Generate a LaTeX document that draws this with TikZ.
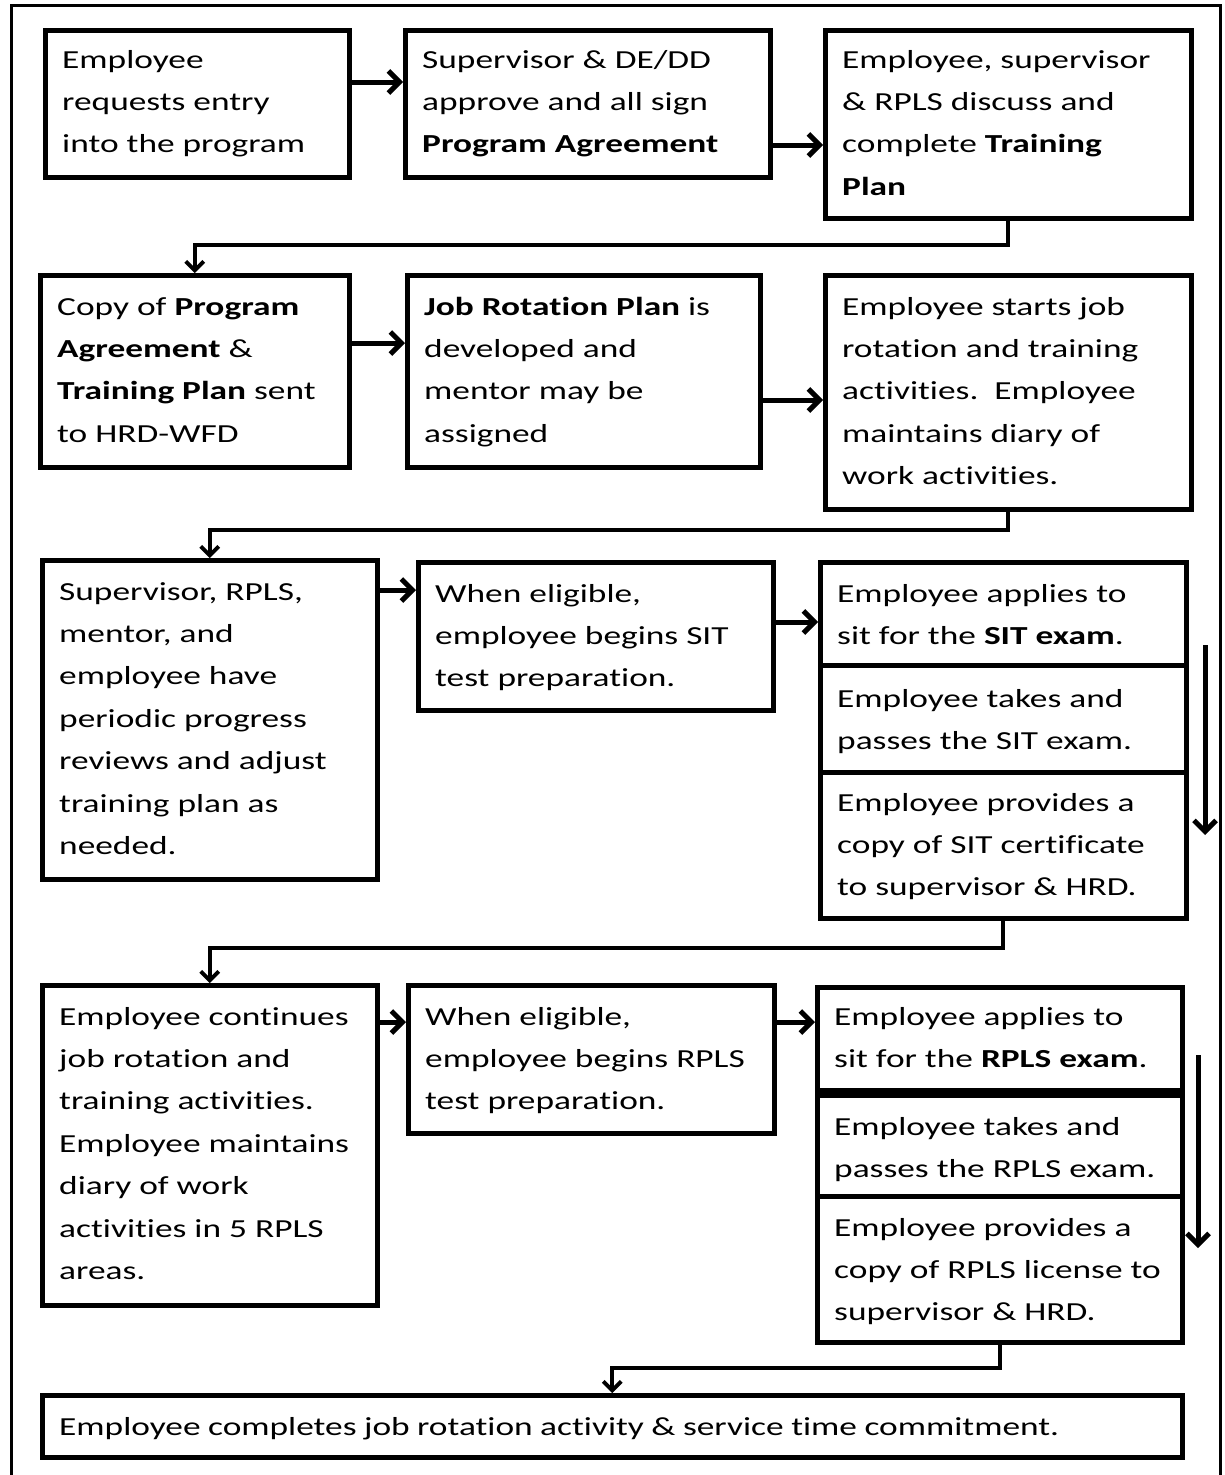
\documentclass[tikz,border=0pt]{standalone}
\usepackage{fontspec}
\setmainfont{Carlito}[FakeStretch=1.36, Ligatures={NoCommon,NoContextual}]
\usetikzlibrary{arrows.meta,calc}
\tikzset{
  fbx/.style={draw, line width=4.5pt, inner sep=0pt, fill=white},
  ftxt/.style={inner sep=0pt, font=\fontsize{26}{42.4}\selectfont},
  harr/.style={line width=5pt, -{Straight Barb[length=11pt,width=22pt]}},
  elb/.style={line width=3.8pt, -{Straight Barb[length=9pt,width=18pt]}},
}
\newcommand\flowbox[7]{%
  \node[fbx, minimum width={#4-#2}, minimum height={#5-#3}, anchor=north west] (#1) at (#2,#3) {};
  \node[ftxt, anchor=base west] (#1t) at (#2+19,#6) {\parbox[t]{1000pt}{#7}};
}
\begin{document}
\begin{tikzpicture}[x=1pt,y=-1pt]
\useasboundingbox (0,0) rectangle (1225,1475);
\fill[white] (0,0) rectangle (1225,1475);
\draw[line width=3pt] (11,5) rectangle (1220,1490);

% Row 1
\flowbox{a1}{43}{28}{347}{175}{68}{Employee\\ requests entry\\ into the program}
\flowbox{a2}{403}{28}{768}{175}{68}{Supervisor \& DE/DD\\ approve and all sign\\ \textbf{Program Agreement}}
\flowbox{a3}{823}{28}{1189}{216}{68}{Employee, supervisor\\ \& RPLS discuss and\\ complete \textbf{Training}\\ \textbf{Plan}}

% Row 2
\flowbox{b1}{38}{273}{347}{465}{315}{Copy of \textbf{Program}\\ \textbf{Agreement} \&\\ \textbf{Training Plan} sent\\ to HRD-WFD}
\flowbox{b2}{405}{273}{758}{465}{315}{\textbf{Job Rotation Plan} is\\ developed and\\ mentor may be\\ assigned}
\flowbox{b3}{823}{273}{1189}{507}{315}{Employee starts job\\ rotation and training\\ activities.\ \ Employee\\ maintains diary of\\ work activities.}

% Row 3
\flowbox{c1}{40}{558}{375}{877}{600}{Supervisor, RPLS,\\ mentor, and\\ employee have\\ periodic progress\\ reviews and adjust\\ training plan as\\ needed.}
\flowbox{c2}{416}{560}{771}{708}{602}{When eligible,\\ employee begins SIT\\ test preparation.}
\flowbox{c3a}{818}{560}{1184}{663}{602}{Employee applies to\\ sit for the \textbf{SIT exam}.}
\flowbox{c3b}{818}{663}{1184}{770}{707}{Employee takes and\\ passes the SIT exam.}
\flowbox{c3c}{818}{770}{1184}{916}{811}{Employee provides a\\ copy of SIT certificate\\ to supervisor \& HRD.}

% Row 4
\flowbox{d1}{40}{983}{375}{1303}{1025}{Employee continues\\ job rotation and\\ training activities.\\ Employee maintains\\ diary of work\\ activities in 5 RPLS\\ areas.}
\flowbox{d2}{406}{983}{772}{1131}{1025}{When eligible,\\ employee begins RPLS\\ test preparation.}
\flowbox{d3a}{815}{985}{1180}{1088}{1025}{Employee applies to\\ sit for the \textbf{RPLS exam}.}
\flowbox{d3b}{815}{1093}{1180}{1194}{1135}{Employee takes and\\ passes the RPLS exam.}
\flowbox{d3c}{815}{1194}{1180}{1340}{1236}{Employee provides a\\ copy of RPLS license to\\ supervisor \& HRD.}

% Final
\flowbox{e}{40}{1393}{1180}{1455}{1435}{Employee completes job rotation activity \& service time commitment.}

% Horizontal arrows
\draw[harr] (a1.east |- 0,82) -- (a2.west |- 0,82);
\draw[harr] (a2.east |- 0,145) -- (a3.west |- 0,145);
\draw[harr] (b1.east |- 0,343) -- (b2.west |- 0,343);
\draw[harr] (b2.east |- 0,400) -- (b3.west |- 0,400);
\draw[harr] (c1.east |- 0,590) -- (c2.west |- 0,590);
\draw[harr] (c2.east |- 0,622) -- (c3a.west |- 0,622);
\draw[harr] (d1.east |- 0,1022) -- (d2.west |- 0,1022);
\draw[harr] (d2.east |- 0,1022) -- (d3a.west |- 0,1022);

% Side arrows
\coordinate (cs1) at (1205,645);
\coordinate (cs2) at (1205,835);
\draw[harr] (cs1) -- (cs2);
\coordinate (ds1) at (1198,1055);
\coordinate (ds2) at (1198,1248);
\draw[harr] (ds1) -- (ds2);

% Elbow connectors
\draw[elb] (a3.south) -- (a3.south |- 0,245) -| (b1.north);
\draw[elb] (b3.south) -- (b3.south |- 0,530) -| (c1.north);
\draw[elb] (c3c.south) -- (c3c.south |- 0,948) -| (d1.north);
\draw[elb] (d3c.south) -- (d3c.south |- 0,1368) -| (e.north);
\end{tikzpicture}
\end{document}
